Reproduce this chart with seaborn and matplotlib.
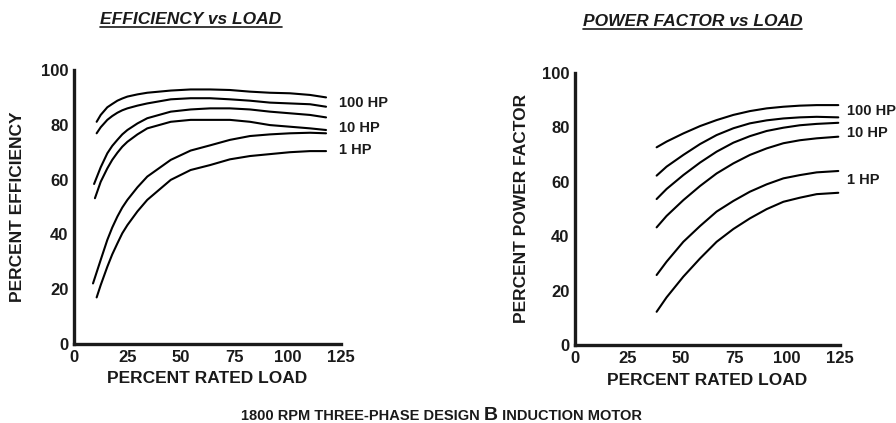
import matplotlib
matplotlib.use("Agg")
import matplotlib.pyplot as plt
import seaborn as sns
import pandas as pd
import numpy as np
from matplotlib.lines import Line2D

# ---------------- data ----------------
# Efficiency vs load (six motor sizes, top = largest)
eff_x = [12.5, 15.6, 17.9, 20.3, 22.6, 25, 29.7, 34.3, 45.3, 54.6, 63.7, 73.0, 82.4, 91.7, 101.1, 110.5, 118.0]
eff_a_start, eff_b_start, eff_c_start, eff_d_start, eff_e_start, eff_f_start = 10.6, 10.6, 9.4, 9.8, 8.9, 10.6
eff_a = [81.1, 83.6, 86.4, 87.6, 88.8, 89.6, 90.3, 91.1, 91.7, 92.5, 92.9, 92.9, 92.7, 92.1, 91.7, 91.5, 90.9, 90.0]
eff_b = [76.9, 79.1, 81.8, 83.2, 84.4, 85.3, 86.0, 87.0, 87.8, 89.3, 89.7, 89.7, 89.3, 88.8, 88.1, 87.8, 87.5, 86.6]
eff_c = [58.4, 64.5, 69.6, 72.3, 74.5, 76.5, 78.1, 80.5, 82.4, 84.8, 85.6, 86.0, 86.0, 85.6, 84.8, 84.2, 83.6, 82.7]
eff_d = [53.2, 59.2, 64.1, 67.2, 69.8, 72.0, 73.8, 76.5, 78.7, 81.1, 81.8, 81.8, 81.8, 81.1, 79.9, 79.3, 78.7, 78.1]
eff_e = [22.1, 30.7, 38.0, 42.5, 46.5, 49.8, 52.6, 57.2, 61.1, 67.2, 70.6, 72.5, 74.5, 75.9, 76.5, 76.9, 77.1, 76.9]
eff_f = [17.0, 21.5, 28.2, 32.7, 36.7, 40.4, 43.4, 48.4, 52.6, 59.9, 63.5, 65.3, 67.4, 68.6, 69.3, 70.0, 70.4, 70.4]

# Power factor vs load
pf_x = [38.5, 43.2, 51.1, 59.0, 66.8, 74.7, 82.5, 90.4, 98.3, 106.1, 114.0, 124.2]
pf_a = [72.6, 74.7, 77.7, 80.4, 82.6, 84.5, 85.9, 86.9, 87.5, 87.9, 88.1, 88.1]
pf_b = [62.2, 65.5, 69.8, 73.8, 77.1, 79.6, 81.4, 82.5, 83.2, 83.6, 83.8, 83.6]
pf_c = [53.6, 57.3, 62.4, 67.0, 71.0, 74.3, 76.7, 78.6, 79.8, 80.7, 81.2, 81.6]
pf_d = [43.2, 47.4, 53.2, 58.4, 63.0, 66.7, 69.8, 72.2, 74.1, 75.2, 75.9, 76.5]
pf_e = [25.7, 30.6, 37.9, 43.7, 49.0, 52.9, 56.3, 59.0, 61.2, 62.4, 63.4, 63.9]
pf_f = [12.2, 17.5, 25.1, 31.8, 37.9, 42.6, 46.5, 49.9, 52.6, 54.1, 55.4, 55.9]

hp_labels = ["100 HP", "10 HP", "1 HP"]
eff_label_y = [87.8, 78.7, 70.8]
pf_label_y = [85.9, 77.7, 60.6]

x_ticks = [0, 25, 50, 75, 100, 125]
y_ticks = [0, 20, 40, 60, 80, 100]

titles = ["EFFICIENCY vs LOAD", "POWER FACTOR vs LOAD"]
y_labels = ["PERCENT EFFICIENCY", "PERCENT POWER FACTOR"]
x_label = "PERCENT RATED LOAD"
caption_parts = ["1800 RPM THREE-PHASE DESIGN ", "B", " INDUCTION MOTOR"]

# ---------------- frames ----------------
rows = []
for name, x0, ys in [("a", eff_a_start, eff_a), ("b", eff_b_start, eff_b),
                     ("c", eff_c_start, eff_c), ("d", eff_d_start, eff_d),
                     ("e", eff_e_start, eff_e), ("f", eff_f_start, eff_f)]:
    for x, y in zip([x0] + eff_x, ys):
        rows.append({"load": x, "value": y, "curve": name})
eff_df = pd.DataFrame(rows)

rows = []
for name, ys in [("a", pf_a), ("b", pf_b), ("c", pf_c), ("d", pf_d), ("e", pf_e), ("f", pf_f)]:
    for x, y in zip(pf_x, ys):
        rows.append({"load": x, "value": y, "curve": name})
pf_df = pd.DataFrame(rows)

# ---------------- style ----------------
sns.set_theme(style="white")
plt.rcParams["font.family"] = ["Liberation Sans", "DejaVu Sans"]
plt.rcParams["font.weight"] = "bold"

fig = plt.figure(figsize=(8.96, 4.23), dpi=100)
W, H = 896, 423
ax1 = fig.add_axes([74 / W, 1 - 344 / H, 267 / W, 274 / H])
ax2 = fig.add_axes([575 / W, 1 - 345 / H, 265 / W, 272.3 / H])

for ax, df, ylab, label_y, label_x in [(ax1, eff_df, y_labels[0], eff_label_y, 124.0),
                                       (ax2, pf_df, y_labels[1], pf_label_y, 128.5)]:
    sns.lineplot(data=df, x="load", y="value", units="curve", estimator=None,
                 sort=False, color="black", lw=1.5, ax=ax, legend=False)
    ax.set_xlim(0, 125)
    ax.set_ylim(0, 100)
    ax.set_xticks(x_ticks)
    ax.set_yticks(y_ticks)
    ax.set_xticks(np.arange(0, 126, 5), minor=True)
    ax.set_yticks(np.arange(0, 101, 10), minor=True)
    ax.tick_params(axis="both", which="both", direction="in", colors="#222222",
                   labelcolor="#1a1a1a", labelsize=12)
    ax.tick_params(axis="x", which="major", length=5, width=0.8, pad=4.5)
    ax.tick_params(axis="x", which="minor", length=2.5, width=0.8)
    ax.tick_params(axis="y", which="major", length=3, width=0.8, pad=4)
    ax.tick_params(axis="y", which="minor", length=3, width=0.8)
    for lab in ax.get_xticklabels() + ax.get_yticklabels():
        lab.set_fontweight("bold")
    for s in ["top", "right"]:
        ax.spines[s].set_visible(False)
    for s in ["left", "bottom"]:
        ax.spines[s].set_linewidth(2.4)
        ax.spines[s].set_color("#1a1a1a")
    ax.set_xlabel(x_label, fontsize=12.5, fontweight="bold", color="#1a1a1a")
    ax.set_ylabel(ylab, fontsize=12.5, fontweight="bold", color="#1a1a1a")
    ax.xaxis.label.set_va("center")
    ax.yaxis.label.set_va("center")
    ax.patch.set_alpha(0)
    for txt, yv in zip(hp_labels, label_y):
        ax.text(label_x, yv, txt, fontsize=10.5, fontweight="bold", va="center",
                ha="left", color="#1a1a1a", clip_on=False)

ax1.xaxis.set_label_coords(0.5, (344 - 378.5) / 274)
ax1.yaxis.set_label_coords((18 - 74) / 267, 0.5)
ax2.xaxis.set_label_coords(0.5, (345 - 380) / 272.3)
ax2.yaxis.set_label_coords((522 - 575) / 265, 0.5)

# titles
t1 = fig.text(191 / W, 1 - 19.5 / H, titles[0], ha="center", va="center",
              fontsize=12.5, fontweight="bold", fontstyle="italic", color="#1a1a1a")
t2 = fig.text(692.5 / W, 1 - 21.5 / H, titles[1], ha="center", va="center",
              fontsize=12.5, fontweight="bold", fontstyle="italic", color="#1a1a1a")

# caption (mixed size, shared baseline)
fig.canvas.draw()
r = fig.canvas.get_renderer()
base_y = 1 - 420 / H
sizes = [10.5, 14, 10.5]
tmp = []
for part, sz in zip(caption_parts, sizes):
    t = fig.text(0, base_y, part, fontsize=sz, fontweight="bold", va="baseline",
                 ha="left", color="#1a1a1a")
    tmp.append(t)
fig.canvas.draw()
widths = [t.get_window_extent(r).width for t in tmp]
total = sum(widths)
x0 = 441 - total / 2
for t, w in zip(tmp, widths):
    t.set_x(x0 / W)
    x0 += w

# underline titles
fig.canvas.draw()
for t, uy in [(t1, 27.5), (t2, 29.5)]:
    bb = t.get_window_extent(r)
    fig.add_artist(Line2D([bb.x0 / W, bb.x1 / W], [1 - uy / H, 1 - uy / H],
                          transform=fig.transFigure, color="#1a1a1a", lw=1.2))

fig.savefig("out.png", dpi=100, facecolor="white")
